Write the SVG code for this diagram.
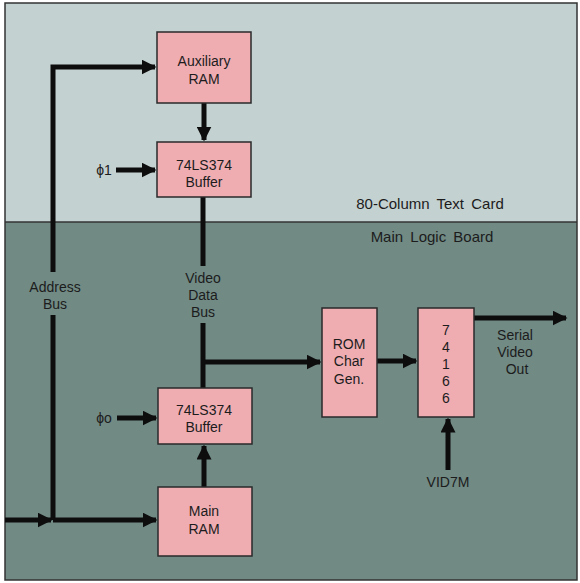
<svg xmlns="http://www.w3.org/2000/svg" width="580" height="583" viewBox="0 0 580 583">
<style>
.box{fill:#efadb2;stroke:#2a2a2a;stroke-width:1.5}
.t{font-family:"Liberation Sans",Arial,sans-serif;font-size:14px;fill:#1c1c1c;text-anchor:middle}
.sec{font-size:15px;word-spacing:3px}
.w{stroke:#0d0d0d;stroke-width:5;fill:none}
.ah{fill:#0d0d0d}
</style>
<defs>
<marker id="a" viewBox="0 0 10 10" refX="9" refY="5" markerWidth="3" markerHeight="3" markerUnits="strokeWidth" orient="auto">
<path d="M0,0 L10,5 L0,10 Z" class="ah"/>
</marker>
</defs>
<rect x="5" y="3" width="572" height="219" fill="#c4d1d1"/>
<rect x="5" y="222" width="572" height="358" fill="#718a84"/>
<rect x="5" y="3" width="572" height="577" fill="none" stroke="#333" stroke-width="1.5"/>
<line x1="5" y1="222" x2="577" y2="222" stroke="#333" stroke-width="1.5"/>
<text class="t sec" x="430" y="209">80-Column Text Card</text>
<text class="t sec" x="432" y="242">Main Logic Board</text>

<g id="connectors">
<path class="w" d="M53,272 V67 H155" marker-end="url(#a)"/>
<path class="w" d="M53,315 V520"/>
<path class="w" d="M5,520 H51" marker-end="url(#a)"/>
<path class="w" d="M53,520 H156" marker-end="url(#a)"/>
<path class="w" d="M204,103 V140" marker-end="url(#a)"/>
<path class="w" d="M116,170 H155" marker-end="url(#a)"/>
<path class="w" d="M203,197 V266"/>
<path class="w" d="M203,323 V388"/>
<path class="w" d="M203,362 H320" marker-end="url(#a)"/>
<path class="w" d="M117,418 H156" marker-end="url(#a)"/>
<path class="w" d="M204,487 V446" marker-end="url(#a)"/>
<path class="w" d="M377,361 H416" marker-end="url(#a)"/>
<path class="w" d="M474,318 H566" marker-end="url(#a)"/>
<path class="w" d="M448,470 V419" marker-end="url(#a)"/>
</g>

<g id="aux-ram"><rect class="box" x="157" y="32" width="94" height="71"/>
<text class="t" x="204" y="66">Auxiliary</text><text class="t" x="204" y="84">RAM</text></g>
<g id="buffer1"><rect class="box" x="157" y="142" width="94" height="55"/>
<text class="t" x="204" y="170" font-size="15">74LS374</text><text class="t" x="204" y="187">Buffer</text></g>
<g id="buffer2"><rect class="box" x="158" y="388" width="94" height="56"/>
<text class="t" x="204" y="415" font-size="15">74LS374</text><text class="t" x="204" y="432">Buffer</text></g>
<g id="main-ram"><rect class="box" x="158" y="487" width="94" height="69"/>
<text class="t" x="204" y="516">Main</text><text class="t" x="204" y="534">RAM</text></g>
<g id="rom"><rect class="box" x="322" y="308" width="55" height="109"/>
<text class="t" x="349" y="349">ROM</text><text class="t" x="349" y="366">Char</text><text class="t" x="349" y="384">Gen.</text></g>
<g id="sr74166"><rect class="box" x="418" y="308" width="56" height="109"/>
<text class="t" x="446" y="335">7</text><text class="t" x="446" y="352">4</text><text class="t" x="446" y="369">1</text><text class="t" x="446" y="386">6</text><text class="t" x="446" y="403">6</text></g>

<g id="labels">
<text class="t" x="104" y="175">ϕ1</text>
<text class="t" x="104" y="423">ϕo</text>
<text class="t" x="55" y="292">Address</text><text class="t" x="55" y="309">Bus</text>
<text class="t" x="203" y="283">Video</text><text class="t" x="203" y="300">Data</text><text class="t" x="203" y="317">Bus</text>
<text class="t" x="515" y="340">Serial</text><text class="t" x="515" y="357">Video</text><text class="t" x="517" y="374">Out</text>
<text class="t" x="448" y="487">VID7M</text>
</g>
</svg>
